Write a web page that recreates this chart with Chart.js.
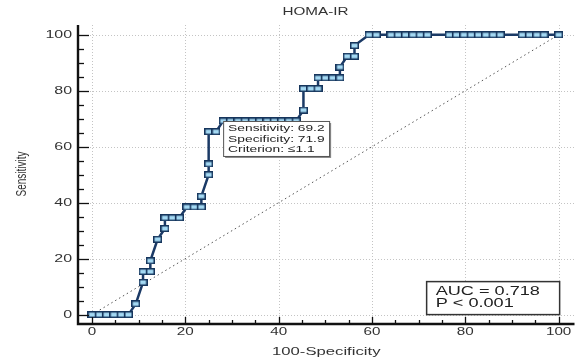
<!DOCTYPE html>
<html><head><meta charset="utf-8">
<script src="https://cdn.jsdelivr.net/npm/chart.js@4/dist/chart.umd.min.js"></script>
<style>html,body{margin:0;padding:0;background:#fff;}canvas{display:block}</style>
</head><body>
<canvas id="c" width="581" height="360"></canvas>
<script>
// ---------- data ----------
const chartTitle = 'HOMA-IR';
const xTitle = '100-Specificity';
const yTitle = 'Sensitivity';
const axisTicks = [0, 20, 40, 60, 80, 100];
const minorStep = 5;
// ROC points: x = 100-Specificity, y = Sensitivity
const fpr = [0, 1.5625, 3.125, 4.6875, 6.25, 7.8125, 9.375, 10.9375, 10.9375, 12.5, 12.5, 14.0625, 15.625, 15.625, 17.1875, 18.75,
  20.3125, 21.875, 23.4375, 23.4375, 25, 25, 25, 26.5625, 28.125, 29.6875, 31.25, 32.8125, 34.375, 35.9375, 37.5, 39.0625,
  40.625, 42.1875, 43.75, 45.3125, 45.3125, 46.875, 48.4375, 48.4375, 50, 51.5625, 53.125, 53.125, 54.6875, 56.25, 56.25,
  59.375, 60.9375, 64.0625, 65.625, 67.1875, 68.75, 70.3125, 71.875, 76.5625, 78.125, 79.6875, 81.25, 82.8125, 84.375,
  85.9375, 87.5, 92.1875, 93.75, 95.3125, 96.875, 100];
const sens = [0, 0, 0, 0, 0, 0, 3.85, 11.54, 15.38, 15.38, 19.23, 26.92, 30.77, 34.62, 34.62, 34.62,
  38.46, 38.46, 38.46, 42.31, 50, 53.85, 65.38, 65.38, 69.23, 69.23, 69.23, 69.23, 69.23, 69.23, 69.23, 69.23,
  69.23, 69.23, 69.23, 73.08, 80.77, 80.77, 80.77, 84.62, 84.62, 84.62, 84.62, 88.46, 92.31, 92.31, 96.15,
  100, 100, 100, 100, 100, 100, 100, 100, 100, 100, 100, 100, 100, 100,
  100, 100, 100, 100, 100, 100, 100];
const refX = [0, 100];
const refY = [0, 100];
const critSens = 69.2, critSpec = 71.9, critLabel = '\u22641.1';
const aucText = 'AUC = 0.718';
const pText = 'P < 0.001';

// ---------- rendering helpers ----------
const FONT = "'Liberation Sans', Arial, sans-serif";
const SX = 1.45; // reference text is horizontally stretched
const canvas = document.getElementById('c');
const ctx = canvas.getContext('2d');
const rawFill = ctx.fillText;
ctx.fillText = function (text, x, y, maxWidth) {
  const t = this.getTransform();
  const p = t.transformPoint(new DOMPoint(x, y));
  this.save();
  this.setTransform(new DOMMatrix().translate(p.x, p.y).scale(SX, 1).translate(-p.x, -p.y).multiply(t));
  if (maxWidth === undefined) rawFill.call(this, text, x, y); else rawFill.call(this, text, x, y, maxWidth);
  this.restore();
};

function makeMarker() {
  const c = document.createElement('canvas');
  c.width = 9; c.height = 7;
  const g = c.getContext('2d');
  g.fillStyle = '#a4d9f3';
  g.fillRect(1, 1, 7, 5);
  g.strokeStyle = '#16355c';
  g.lineWidth = 1.5;
  g.strokeRect(0.75, 0.75, 7.5, 5.5);
  return c;
}

const decor = {
  id: 'decor',
  afterLayout(chart) {
    // centre the title over the plot incl. its tick labels
    const tb = chart.titleBlock;
    if (tb) { tb.left = 50; tb.right = chart.width; }
  },
  beforeDatasetsDraw(chart) {
    const { ctx, chartArea: a, scales: { x, y } } = chart;
    ctx.save();
    ctx.strokeStyle = '#c4c4c4';
    ctx.lineWidth = 1;
    ctx.setLineDash([1, 2]);
    axisTicks.forEach(v => {
      const px = Math.round(x.getPixelForValue(v)) + 0.5;
      ctx.beginPath(); ctx.moveTo(px, a.top); ctx.lineTo(px, a.bottom); ctx.stroke();
      const py = Math.round(y.getPixelForValue(v)) + 0.5;
      ctx.beginPath(); ctx.moveTo(a.left, py); ctx.lineTo(a.right, py); ctx.stroke();
    });
    ctx.restore();
  },
  afterDatasetsDraw(chart) {
    const { ctx, chartArea: a, scales: { x, y } } = chart;
    ctx.save();
    // axes
    ctx.strokeStyle = '#111';
    ctx.lineWidth = 2.4;
    ctx.beginPath(); ctx.moveTo(a.left, a.top); ctx.lineTo(a.left, a.bottom + 1); ctx.lineTo(a.right, a.bottom + 1); ctx.stroke();
    // tick marks (inward)
    ctx.lineWidth = 1.3;
    const lo = axisTicks[0], hi = axisTicks[axisTicks.length - 1];
    for (let v = lo; v <= hi; v += minorStep) {
      const major = axisTicks.includes(v);
      const py = Math.round(y.getPixelForValue(v)) + 0.5;
      ctx.beginPath(); ctx.moveTo(a.left, py); ctx.lineTo(a.left + (major ? 11 : 6), py); ctx.stroke();
      const px = Math.round(x.getPixelForValue(v)) + 0.5;
      ctx.beginPath(); ctx.moveTo(px, a.bottom + 1); ctx.lineTo(px, a.bottom + 1 - (major ? 7 : 4)); ctx.stroke();
    }
    // criterion box
    const cx = x.getPixelForValue(100 - critSpec), cy = y.getPixelForValue(critSens);
    const bw = 106, bh = 35;
    ctx.fillStyle = '#8a8a8a';
    ctx.fillRect(cx + 2, cy + 2, bw, bh);
    ctx.fillStyle = '#fff';
    ctx.fillRect(cx, cy, bw, bh);
    ctx.strokeStyle = '#555';
    ctx.lineWidth = 1;
    ctx.strokeRect(cx + 0.5, cy + 0.5, bw, bh);
    ctx.fillStyle = '#222';
    ctx.font = '9.5px ' + FONT;
    ctx.textAlign = 'left';
    ctx.textBaseline = 'middle';
    ctx.fillText('Sensitivity: ' + critSens.toFixed(1), cx + 5, cy + 7.5);
    ctx.fillText('Specificity: ' + critSpec.toFixed(1), cx + 5, cy + 18);
    ctx.fillText('Criterion: ' + critLabel, cx + 5, cy + 28.5);
    // AUC box
    const right = x.getPixelForValue(100) + 1, bottom = y.getPixelForValue(0);
    const aw = 133, ah = 33;
    ctx.fillStyle = '#fff';
    ctx.fillRect(right - aw, bottom - ah, aw, ah);
    ctx.strokeStyle = '#333';
    ctx.lineWidth = 1.5;
    ctx.strokeRect(right - aw, bottom - ah, aw, ah);
    ctx.fillStyle = '#222';
    ctx.font = '12.5px ' + FONT;
    ctx.fillText(aucText, right - aw + 9, bottom - ah + 9.5);
    ctx.fillText(pText, right - aw + 9, bottom - ah + 22);
    ctx.restore();
  }
};

new Chart(ctx, {
  type: 'scatter',
  data: {
    datasets: [
      {
        data: fpr.map((v, i) => ({ x: v, y: sens[i] })),
        showLine: true,
        borderColor: '#1b3a66',
        borderWidth: 2.5,
        pointStyle: makeMarker(),
        pointRadius: 4,
        tension: 0,
        order: 1
      },
      {
        data: refX.map((v, i) => ({ x: v, y: refY[i] })),
        showLine: true,
        borderColor: '#555',
        borderWidth: 1,
        borderDash: [1.5, 3],
        pointRadius: 0,
        order: 2
      }
    ]
  },
  options: {
    responsive: false,
    animation: false,
    devicePixelRatio: 1,
    layout: { padding: { left: 0, right: 3, top: 0, bottom: 0 } },
    plugins: {
      legend: { display: false },
      tooltip: { enabled: false },
      title: {
        display: true, text: chartTitle, color: '#333',
        font: { family: FONT, size: 10.5, weight: 'normal' },
        padding: { top: 6, bottom: 6.4 }
      }
    },
    scales: {
      x: {
        type: 'linear', min: -3, max: 103.4,
        afterBuildTicks: s => { s.ticks = axisTicks.map(v => ({ value: v })); },
        afterFit: s => { s.height = 37; },
        grid: { display: false, drawTicks: false },
        border: { display: false },
        ticks: { autoSkip: false, maxRotation: 0, padding: 3, color: '#333', font: { family: FONT, size: 10.5 } },
        title: { display: true, text: xTitle, color: '#333', font: { family: FONT, size: 11.5 }, padding: { top: 0, bottom: 1.5 } }
      },
      y: {
        type: 'linear', min: -3, max: 103.5,
        afterBuildTicks: s => { s.ticks = axisTicks.map(v => ({ value: v })); },
        afterFit: s => { s.width = 78; },
        grid: { display: false, drawTicks: false },
        border: { display: false },
        ticks: { autoSkip: false, padding: 6, color: '#333', font: { family: FONT, size: 11 } },
        title: { display: true, text: yTitle, color: '#333', font: { family: FONT, size: 10 }, padding: { top: 16, bottom: 0 } }
      }
    }
  },
  plugins: [decor]
});
</script>
</body></html>
